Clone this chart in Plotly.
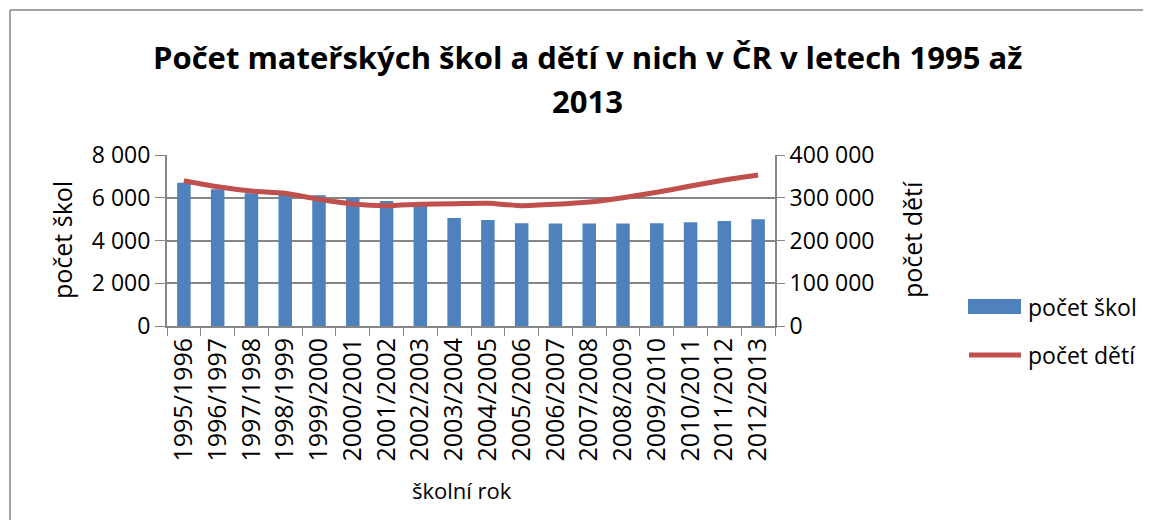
import plotly.graph_objects as go

# school years, number of kindergartens, number of children
roky = ['1995/1996', '1996/1997', '1997/1998', '1998/1999', '1999/2000', '2000/2001',
        '2001/2002', '2002/2003', '2003/2004', '2004/2005', '2005/2006', '2006/2007',
        '2007/2008', '2008/2009', '2009/2010', '2010/2011', '2011/2012', '2012/2013']
pocet_skol = [6700, 6400, 6210, 6130, 6115, 5990, 5850, 5660, 5050, 4960,
              4805, 4790, 4790, 4790, 4805, 4850, 4910, 4990]
pocet_deti = [339900, 325800, 315800, 310400, 296400, 285400, 281400, 284600, 286000,
              287000, 281400, 284700, 290100, 300200, 312700, 327500, 341500, 353200]

left_ticks = [0, 2000, 4000, 6000, 8000]
left_labels = ['0', '2 000', '4 000', '6 000', '8 000']
right_ticks = [0, 100000, 200000, 300000, 400000]
right_labels = ['0', '100 000', '200 000', '300 000', '400 000']

font = 'Open Sans, Lato, sans-serif'
grey = '#868686'
blue = '#4F81BD'
red = '#C0504D'

# plot area on screen: x 167..775, y 155..326 (page body has an 8px margin)
def px(x):
    return (x - 167) / 608

def py(y):
    return (326 - y) / 171

fig = go.Figure()
fig.add_trace(go.Bar(x=roky, y=pocet_skol, name='počet škol', marker_color=blue,
                     marker_line_width=0))
fig.add_trace(go.Scatter(x=roky, y=pocet_deti, name='počet dětí', yaxis='y2', mode='lines',
                         line=dict(color=red, width=5, shape='spline', smoothing=0.6)))

fig.update_layout(
    width=1135, height=512,
    margin=dict(l=159, r=368, t=147, b=194, autoexpand=False),
    paper_bgcolor='white', plot_bgcolor='white',
    font=dict(family=font, size=23, color='black'),
    bargap=0.6,
    showlegend=False,
    xaxis=dict(type='category', tickangle=-90, tickson='boundaries', ticks='outside',
               ticklen=8, tickcolor=grey, showline=True, linecolor=grey, linewidth=2,
               showgrid=False, tickfont=dict(size=25), automargin=False),
    yaxis=dict(range=[0, 8000], tickvals=left_ticks, ticktext=left_labels, ticks='outside',
               ticklen=10, tickcolor=grey, showline=True, linecolor=grey, linewidth=2,
               showgrid=True, gridcolor=grey, gridwidth=2, zeroline=False, automargin=False),
    yaxis2=dict(range=[0, 400000], tickvals=right_ticks, ticktext=right_labels,
                overlaying='y', side='right', ticks='outside', ticklen=8, tickcolor=grey,
                showline=True, linecolor=grey, linewidth=2, showgrid=False, zeroline=False,
                automargin=False),
    annotations=[
        dict(text='<b>Počet mateřských škol a dětí v nich v ČR v letech 1995 až</b>',
             xref='paper', yref='paper', x=px(587), y=py(57), xanchor='center',
             yanchor='middle', showarrow=False, font=dict(size=31)),
        dict(text='<b>2013</b>',
             xref='paper', yref='paper', x=px(587), y=py(101), xanchor='center',
             yanchor='middle', showarrow=False, font=dict(size=31)),
        dict(text='počet škol', xref='paper', yref='paper', x=px(62), y=py(240),
             textangle=-90, showarrow=False, xanchor='center', yanchor='middle',
             font=dict(size=25)),
        dict(text='počet dětí', xref='paper', yref='paper', x=px(912), y=py(240),
             textangle=-90, showarrow=False, xanchor='center', yanchor='middle',
             font=dict(size=25)),
        dict(text='školní rok', xref='paper', yref='paper', x=px(462), y=py(490),
             showarrow=False, xanchor='center', yanchor='middle', font=dict(size=22)),
        dict(text='počet škol', xref='paper', yref='paper', x=px(1026), y=py(307),
             showarrow=False, xanchor='left', yanchor='middle', font=dict(size=23)),
        dict(text='počet dětí', xref='paper', yref='paper', x=px(1026), y=py(355),
             showarrow=False, xanchor='left', yanchor='middle', font=dict(size=23)),
    ],
    shapes=[
        # chart frame (top and left edges visible)
        dict(type='line', xref='paper', yref='paper', x0=px(10), x1=px(1151),
             y0=py(10), y1=py(10), line=dict(color=grey, width=1.5), layer='below'),
        dict(type='line', xref='paper', yref='paper', x0=px(10), x1=px(10),
             y0=py(10), y1=py(528), line=dict(color=grey, width=1.5), layer='below'),
        # legend keys
        dict(type='rect', xref='paper', yref='paper', x0=px(968), x1=px(1021),
             y0=py(314), y1=py(299), fillcolor=blue, line=dict(width=0)),
        dict(type='line', xref='paper', yref='paper', x0=px(969), x1=px(1021),
             y0=py(355), y1=py(355), line=dict(color=red, width=5)),
    ],
)

fig.write_html('out.html')
